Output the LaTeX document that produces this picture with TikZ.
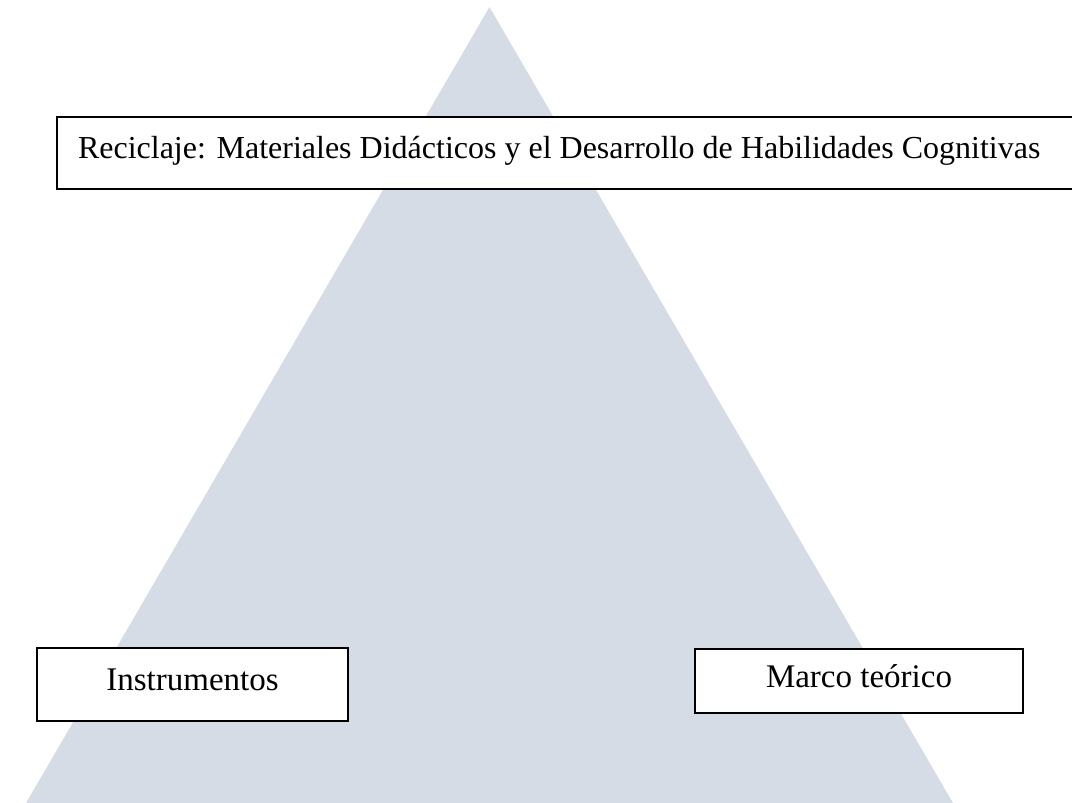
\documentclass[tikz,border=0pt]{standalone}
\usepackage{fontspec}
\setmainfont{Liberation Serif}
\definecolor{trifill}{HTML}{D6DCE5}
\tikzset{
  boxed/.style={draw=black, line width=2pt, fill=white, inner ysep=0pt, rectangle},
  titlefont/.style={font=\fontsize{32}{38}\selectfont},
  labelfont/.style={font=\fontsize{33}{40}\selectfont}
}
\begin{document}
\begin{tikzpicture}[x=1pt,y=-1pt]
\useasboundingbox (0,0) rectangle (1072,803);
\clip (0,0) rectangle (1072,803);
\fill[trifill] (489.5,7) -- (953,803) -- (26,803) -- cycle;
\node[boxed, titlefont, anchor=north west, inner xsep=21pt, text width=1060pt, align=flush left,
      text height=41pt, text depth=31pt] (title) at (56,116)
  {Reciclaje: Materiales Didácticos y el Desarrollo de Habilidades Cognitivas};
\node[boxed, labelfont, anchor=north west, minimum width=311pt, inner xsep=0pt,
      text height=42pt, text depth=31pt] (instr) at (36,647) {Instrumentos};
\node[boxed, labelfont, anchor=north west, minimum width=328pt, inner xsep=0pt,
      text height=38pt, text depth=26pt] (marco) at (694,648) {Marco teórico};
\end{tikzpicture}
\end{document}
